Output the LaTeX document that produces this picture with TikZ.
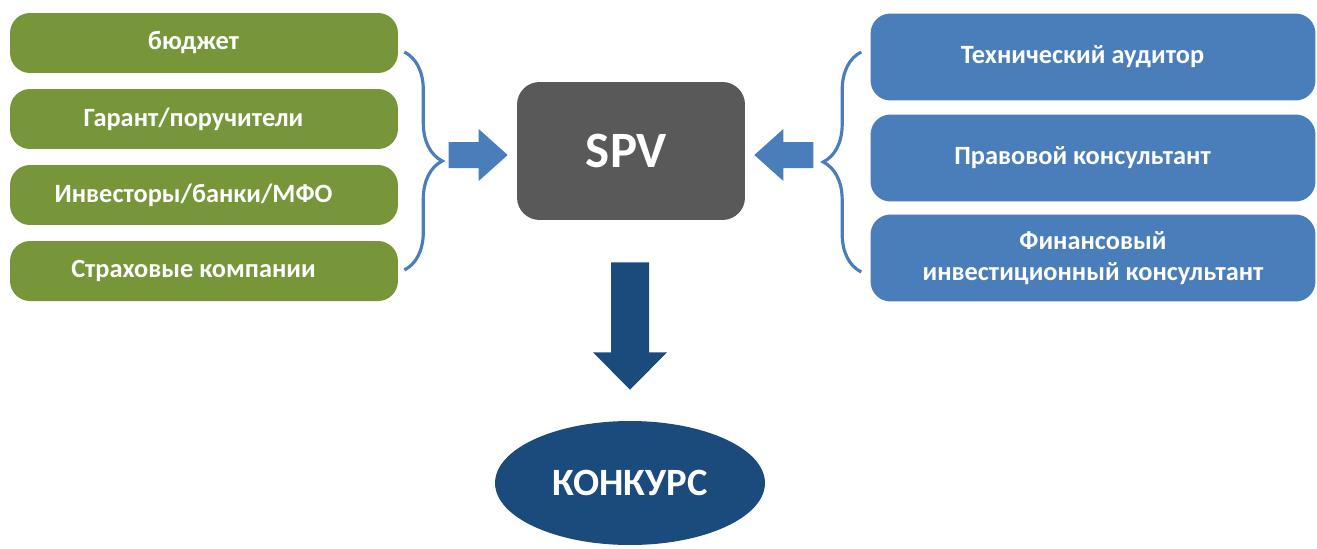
\documentclass[tikz,border=0pt]{standalone}
\usepackage{fontspec}
\setmainfont{Carlito}
\usetikzlibrary{shapes.geometric,positioning,calc,decorations.pathreplacing}
\definecolor{partgreen}{HTML}{77963A}
\definecolor{partblue}{HTML}{4A7EBB}
\definecolor{spvgray}{HTML}{595959}
\definecolor{navy}{HTML}{1B4A7C}

\begin{document}
\begin{tikzpicture}[x=0.02cm,y=-0.02cm]
	\tikzset{
		greenbox/.style={rectangle, rounded corners=0.4cm, fill=partgreen, text=white,
			minimum width=7.76cm, minimum height=1.2cm, inner sep=0pt,
			font=\bfseries\fontsize{15}{18}\selectfont},
		bluebox/.style={rectangle, rounded corners=0.4cm, fill=partblue, text=white,
			minimum width=8.9cm, minimum height=1.74cm, inner sep=0pt, align=center,
			font=\bfseries\fontsize{15}{18}\selectfont},
		leftish/.style={execute at end node=\hspace*{0.42cm}},
		curly/.style={draw=partblue, line width=1.8pt, decorate,
			decoration={brace, amplitude=0.76cm, aspect=0.5}}
	}
	\useasboundingbox (0,0) rectangle (1317,548);
	% left side
	\node [greenbox, leftish] (budget) at (204,43) {бюджет};
	\node [greenbox, leftish] (garant) at (204,119) {Гарант/поручители};
	\node [greenbox, leftish] (invest) at (204,195) {Инвесторы/банки/МФО};
	\node [greenbox, leftish] (insur) at (204,271) {Страховые компании};
	% right side
	\node [bluebox, leftish] (audit) at (1093,57) {Технический аудитор};
	\node [bluebox, leftish] (legal) at (1093,158) {Правовой консультант};
	\node [bluebox] (finance) at (1093,258) {Финансовый\\инвестиционный консультант};
	% centre
	\node [rectangle, rounded corners=0.45cm, fill=spvgray, text=white, minimum width=4.56cm,
		minimum height=2.76cm, font=\bfseries\fontsize{29}{34}\selectfont,
		execute at end node=\hspace*{0.18cm}] (spv) at (631,151) {SPV};
	\node [ellipse, fill=navy, text=white, minimum width=5.4cm, minimum height=2.48cm,
		inner sep=0pt, font=\bfseries\fontsize{22}{26}\selectfont] (contest) at (630,483) {КОНКУРС};
	% braces
	\coordinate (lbtop) at ($(budget.east)+(6,9)$);
	\coordinate (lbbot) at ($(insur.east)+(6,-1)$);
	\coordinate (rbtop) at ($(audit.west)+(-9,-5)$);
	\coordinate (rbbot) at ($(finance.west)+(-9,14)$);
	\draw [curly] (lbtop) -- (lbbot);
	\draw [curly] (rbbot) -- (rbtop);
	% block arrows
	\path (spv.west) ++(-9,4) coordinate (ltip);
	\path (spv.east) ++(9,4) coordinate (rtip);
	\path (spv.south) ++(-1,42) coordinate (dtop);
	\fill [partblue] (ltip) -- ++(-29,-26) -- ++(0,13) -- ++(-30,0) -- ++(0,26)
		-- ++(30,0) -- ++(0,13) -- cycle;
	\fill [partblue] (rtip) -- ++(29,-26) -- ++(0,13) -- ++(30,0) -- ++(0,26)
		-- ++(-30,0) -- ++(0,13) -- cycle;
	\fill [navy] (dtop) -- ++(19,0) -- ++(0,90) -- ++(18,0) -- ($(contest.north)+(0,-31)$)
		-- ($(dtop)+(-37,90)$) -- ++(18,0) -- ++(0,-90) -- cycle;
\end{tikzpicture}
\end{document}
